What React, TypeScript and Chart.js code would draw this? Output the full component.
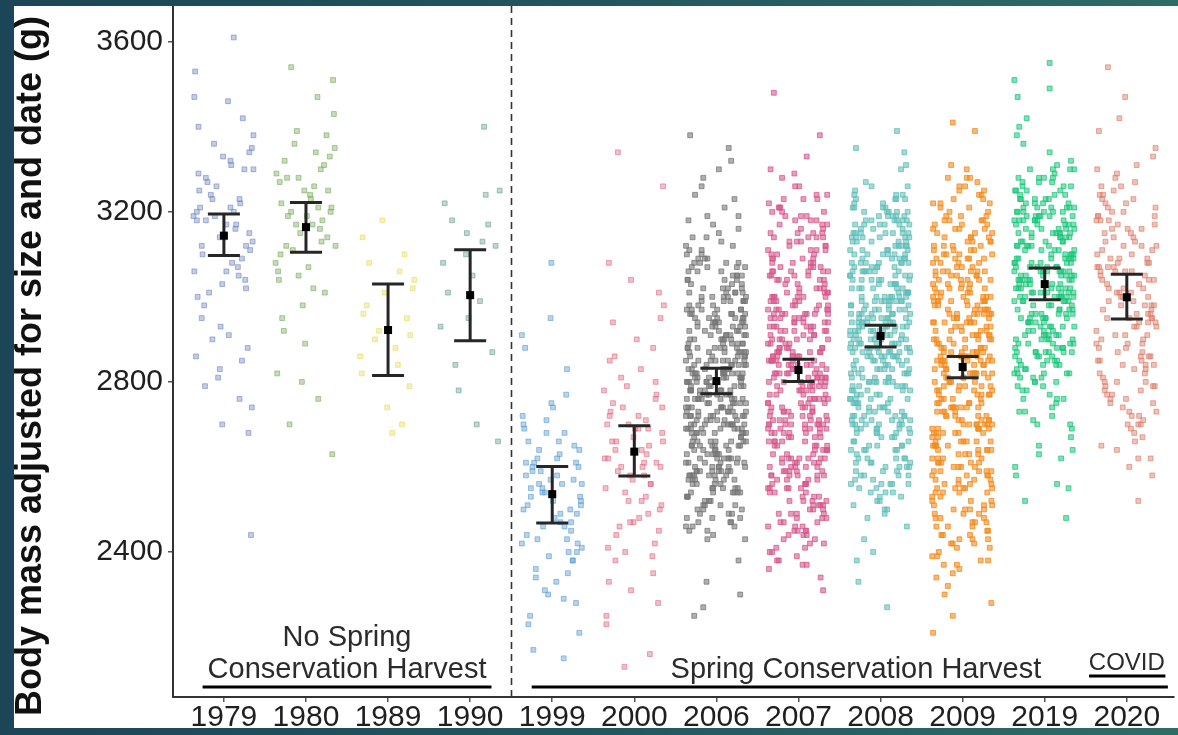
import React, { useEffect, useRef } from "react";
import { Chart, registerables } from "chart.js";

Chart.register(...registerables);

const FONT = "'Liberation Sans', Arial, Helvetica, sans-serif";

const YEARS = ["1979", "1980", "1989", "1990", "1999", "2000", "2006", "2007", "2008", "2009", "2019", "2020"];
const MEANS = [3144, 3164, 2922, 3004, 2536, 2636, 2802, 2828, 2908, 2835, 3030, 2999];
const LOWER = [3097, 3105, 2815, 2897, 2468, 2579, 2772, 2801, 2882, 2810, 2993, 2948];
const UPPER = [3195, 3222, 3030, 3111, 2601, 2697, 2832, 2853, 2933, 2860, 3068, 3053];
const COLORS = [
  "112,135,195", "120,172,92", "232,220,95", "105,160,148", "98,160,212", "226,112,134",
  "118,118,118", "214,88,140", "96,190,184", "242,140,32", "28,198,122", "220,128,108",
];
const FILL_ALPHA = [0.42, 0.42, 0.42, 0.42, 0.45, 0.45, 0.58, 0.58, 0.58, 0.6, 0.55, 0.48];
const Y_TICKS = [2400, 2800, 3200, 3600];
const Y_TITLE = "Body mass adjusted for size and date (g)";

const JITTER = [
  0.12, -0.31, 0.27, -0.05, 0.34, -0.22, 0.03, -0.36, 0.19, -0.14,
  0.31, -0.27, 0.08, 0.22, -0.33, -0.02, 0.36, -0.18, 0.15, -0.09,
  0.29, -0.35, 0.01, 0.25, -0.24, 0.1, -0.29, 0.33, -0.12, 0.18,
  -0.37, 0.06, -0.2, 0.35, -0.07, 0.23, -0.32, 0.14, -0.16, 0.3,
  -0.01, -0.26, 0.2, -0.34, 0.05, 0.32, -0.11, 0.26, -0.23, 0.09,
  -0.3, 0.17, -0.04,
];

const M1979 = [3610, 3290, 3120, 2830, 3350, 3180, 3060, 3470, 2760, 3230, 3150, 2950, 3320, 3090, 3200, 2700, 3380, 3010, 3170, 3260,
  2880, 3530, 3140, 3300, 2980, 3080, 3210, 2440, 3360, 3050, 3190, 2910, 3270, 3130, 2810, 3420, 3000, 3160, 3240, 2680,
  3330, 3100, 3220, 2860, 3460, 3110, 3190, 3040, 2790, 3310, 3250, 3070, 2930, 3200, 3400, 3020, 3140, 2740, 3280, 3170,
  3060, 3230, 2900, 3340, 3120, 3210, 2850, 3180, 3030, 3300];
const M1980 = [3540, 3210, 3050, 3330, 2820, 3190, 3380, 3120, 3260, 2950, 3510, 3170, 3300, 3080, 3230, 2700, 3350, 3150, 3010, 3270,
  3470, 3110, 3200, 2890, 3320, 3180, 3060, 3240, 2630, 3390, 3140, 3280, 3020, 3220, 3160, 2980, 3340, 3100, 3250, 2800,
  3430, 3190, 3070, 3290, 3130, 3360, 3210, 2920, 3170, 3310, 3040, 3250, 3120, 3200, 2760, 3280];
const M1989 = [3180, 2950, 2820, 3060, 2900, 3020, 2740, 2980, 3100, 2860, 2680, 3040, 2920, 2790, 3080, 2880, 2960, 2700, 3010, 2840, 3140, 2910];
const M1990 = [3400, 3150, 2990, 3220, 2870, 3100, 2660, 3180, 3050, 2930, 3240, 2780, 3120, 3010, 2700, 3170, 3080, 2950, 3250, 2840, 3130];
const M1999 = [2950, 2560, 2430, 2680, 2310, 2610, 2500, 2740, 2380, 2590, 2470, 2660, 2210, 2540, 2830, 2420, 2620, 2360, 2520, 2710,
  2450, 2580, 2290, 2640, 2490, 3080, 2550, 2400, 2690, 2330, 2600, 2460, 2570, 2170, 2630, 2510, 2770, 2390, 2560, 2440,
  2650, 2300, 2530, 2610, 2480, 2720, 2350, 2590, 2420, 2250, 2660, 2500, 2880, 2570, 2410, 2620, 2460, 2540, 2280, 2700,
  2520, 2380, 2600, 2490, 2230, 2640, 2550, 2430, 2910, 2580, 2340, 2510, 2680, 2470, 2610, 2150, 2560, 2400, 2750, 2530];
const M2000 = [3340, 2660, 2520, 2880, 2410, 2710, 2600, 3010, 2470, 2750, 2560, 2230, 2690, 2950, 2540, 2800, 2380, 2640, 2720, 2490,
  3040, 2610, 2330, 2770, 2580, 2680, 2440, 2900, 2620, 2160, 2740, 2500, 2660, 2830, 2390, 2700, 2570, 2980, 2460, 2630,
  2790, 2280, 2550, 2690, 2420, 2860, 2600, 2730, 2510, 2130, 2650, 2780, 2480, 2590, 3260, 2700, 2350, 2620, 2530, 2810,
  2450, 2670, 2940, 2560, 2250, 2720, 2600, 2400, 2760, 2640, 2520, 2850, 2690, 2310, 2580, 3080, 2610, 2470, 2740, 2660];
const M2006 = [2810, 2650, 2990, 2720, 3080, 2540, 2870, 2930, 2610, 2760, 3150, 2480, 2840, 2700, 3020, 2580, 2900, 2790, 2450, 2960,
  2680, 3100, 2830, 2520, 2750, 3040, 2620, 2880, 2710, 3210, 2560, 2940, 2800, 2470, 2690, 3060, 2770, 2600, 2910, 2850,
  3380, 2730, 2500, 2970, 2640, 2820, 3120, 2570, 2780, 2950, 2430, 2860, 2660, 3000, 2740, 2590, 3170, 2810, 2690, 2920,
  2550, 2840, 3090, 2630, 2760, 2890, 2510, 3030, 2700, 2820, 2460, 2980, 2650, 2870, 3260, 2600, 2750, 2930, 2530, 2800,
  3070, 2680, 2900, 2570, 2790, 3140, 2620, 2850, 2740, 2490, 2960, 2710, 3010, 2580, 2830, 2270, 2670, 2940, 2760, 3050,
  2610, 2880, 2720, 3190, 2540, 2810, 2990, 2650, 2770, 2440, 2910, 2700, 3080, 2590, 2850, 2730, 3300, 2630, 2960, 2780,
  2500, 2840, 3020, 2690, 2920, 2560, 2750, 3110, 2640, 2870, 2480, 2800, 2970, 2710, 2590, 3040, 2820, 2660, 2330, 2900,
  2740, 3130, 2620, 2860, 2520, 2950, 2780, 3000, 2680, 2810, 2570, 3240, 2730, 2890, 2610, 2760, 3070, 2550, 2930, 2700,
  2830, 2470, 2980, 2650, 2790, 3160, 2600, 2870, 2720, 2940, 2530, 2820, 3090, 2680, 2250, 2850, 2760, 3010, 2580, 2910,
  2690, 3350, 2770, 2540, 2880, 2630, 3050, 2800, 2710, 2460, 2950, 2840, 2660, 3120, 2590, 2780, 2990, 2720, 2510, 2860,
  3020, 2640, 2800, 2930, 2570, 2750, 3180, 2690, 2890, 2450, 2820, 3060, 2620, 2970, 2740, 2550, 2910, 2780, 2380, 3000,
  2700, 2850, 2600, 3100, 2760, 2520, 2940, 2670, 2830, 3230, 2580, 2880, 2730, 2990, 2490, 2810, 2650, 3040, 2770, 2920,
  2560, 2870, 3140, 2680, 2800, 2960, 2610, 2740, 3080, 2430, 2850, 2720, 2900, 2590, 3280, 2790, 2660, 2950, 2540, 2830,
  2760, 3010, 2630, 2890, 2500, 2820, 3070, 2700, 2940, 2580, 2780, 3190, 2650, 2860, 2470, 2920, 2730, 3030, 2610, 2810,
  2900, 2550, 2750, 3110, 2680, 2840, 2970, 2620, 2790, 2300, 2880, 2710, 3050, 2590, 2820, 2660, 2990, 2770, 3320, 2720,
  2780, 2590, 2930, 2660, 3010, 2720, 2850, 2510, 2970, 2630, 2810, 2700, 3060, 2560, 2890, 2750, 2620, 2940, 2830, 2680,
  2910, 2540, 2770, 3030, 2650, 2860, 2720, 2980, 2600, 2800, 2490, 2920, 2690, 3080, 2740, 2570, 2870, 2640, 3000, 2760,
  2620, 2950, 2810, 2530, 2730, 3040, 2680, 2880, 2580, 2990, 2710, 2840, 2460, 2900, 2650, 3070, 2790, 2550, 2960, 2700,
  3020, 2670, 2850, 2600, 2930, 2740, 2510, 2820, 3090, 2690, 2880, 2570, 2960, 2780, 2630, 3010, 2720, 2840, 2480, 2910,
  2760, 2590, 2970, 2700, 2830, 3050, 2640, 2890, 2540, 2800, 2940, 2660, 3000, 2730, 2580, 2870, 2690, 2950, 2610, 2820];
const M2007 = [2830, 3050, 2610, 2940, 2470, 3180, 2720, 2880, 2550, 3010, 2790, 2380, 2960, 2660, 3120, 2840, 2500, 2750, 3230, 2900,
  2640, 2980, 2810, 3090, 2420, 2700, 3160, 2580, 2870, 2760, 3300, 2530, 2920, 2680, 3040, 2820, 2450, 2990, 2730, 2600,
  3140, 2860, 2510, 2950, 2690, 3070, 2780, 2360, 2910, 2630, 3200, 2850, 2560, 3020, 2740, 2480, 2970, 2800, 3110, 2670,
  2590, 2930, 3260, 2710, 2840, 2440, 3000, 2770, 2620, 3150, 2890, 2520, 2960, 2650, 3080, 2810, 2400, 2870, 3190, 2700,
  3030, 2570, 2820, 2990, 2460, 2750, 3130, 2680, 2900, 2540, 3480, 2790, 2610, 3060, 2850, 2340, 2940, 2720, 3210, 2800,
  2660, 3100, 2880, 2490, 2970, 2740, 3240, 2580, 2830, 3010, 2430, 2920, 2700, 3170, 2600, 2860, 2510, 3040, 2780, 2950,
  2810, 2550, 3070, 2690, 2910, 3280, 2640, 2870, 2470, 3000, 2760, 2590, 3140, 2840, 2380, 2960, 2730, 3090, 2620, 2890,
  3020, 2710, 2450, 2930, 2800, 3180, 2570, 2860, 2670, 3050, 2520, 2950, 2750, 3220, 2610, 2820, 2420, 2990, 2700, 3110,
  2580, 2900, 3060, 2680, 2840, 2490, 3150, 2770, 2620, 2980, 2870, 3330, 2540, 2810, 2730, 3080, 2460, 2940, 2660, 3010,
  2850, 2600, 3200, 2720, 2960, 2500, 2830, 3040, 2640, 2910, 2370, 2790, 3120, 2690, 2880, 2560, 3000, 2740, 3260, 2810,
  2630, 3070, 2920, 2480, 2780, 3160, 2700, 2850, 2550, 3020, 2820, 2410, 2970, 2680, 3130, 2760, 2590, 2930, 3060, 2840,
  2720, 2990, 2530, 2870, 3190, 2650, 2800, 2440, 3090, 2750, 2950, 2610, 3240, 2830, 2570, 2900, 2690, 3030, 2310, 2860,
  3100, 2670, 2890, 2740, 3010, 2520, 2820, 3170, 2600, 2960, 2780, 2460, 3050, 2710, 2870, 3290, 2640, 2920, 2550, 2800,
  2760, 3040, 2580, 2930, 2690, 3140, 2850, 2490, 2980, 2730, 3080, 2620, 2810, 2400, 2950, 2700, 3210, 2840, 2660, 3000,
  2880, 2510, 3110, 2770, 2620, 2970, 2830, 3230, 2560, 2900, 2710, 3060, 2450, 2860, 2650, 3150, 2790, 2940, 2590, 3380,
  2880, 2560, 3140, 2730, 2980, 2620, 3060, 2800, 2450, 2920, 2690, 3190, 2850, 2530, 3010, 2760, 2410, 2960, 2650, 3100,
  2590, 2900, 3230, 2710, 2840, 2480, 3050, 2780, 2610, 2970, 2370, 2820, 3120, 2670, 2930, 2550, 3000, 2740, 3170, 2860,
  2700, 3080, 2500, 2890, 2640, 3150, 2790, 2430, 2950, 2720, 3030, 2580, 2870, 3210, 2680, 2810, 2520, 2990, 2750, 3090,
  2620, 2940, 2830, 2470, 3130, 2700, 2910, 2570, 3040, 2770, 2660, 3180, 2850, 2390, 2960, 2730, 3070, 2600, 2880, 2540,
  3020, 2760, 2490, 2930, 2680, 3110, 2820, 2630, 2970, 2440, 3200, 2710, 2860, 2580, 3060, 2790, 2920, 2510, 3000, 2650];
const M2008 = [2910, 3150, 2720, 3040, 2850, 2600, 3210, 2960, 2780, 3090, 2530, 2890, 3180, 2700, 3000, 2820, 3260, 2650, 2940, 3110,
  2760, 3030, 2880, 2560, 3170, 2930, 2690, 3080, 2810, 3220, 2980, 2620, 2870, 3130, 2740, 2500, 3010, 2900, 3190, 2680,
  3060, 2800, 2950, 3340, 2710, 2860, 3120, 2580, 2990, 2770, 3200, 2920, 2640, 3050, 2840, 2430, 3140, 2730, 2970, 3240,
  2670, 2940, 3100, 2830, 2550, 3020, 2790, 3170, 2880, 2610, 3080, 2960, 2750, 3230, 2860, 2520, 3000, 2700, 3150, 2910,
  2820, 3060, 2590, 2980, 3190, 2740, 2900, 2330, 3110, 2850, 2660, 3030, 2780, 3270, 2940, 2570, 3090, 2810, 2990, 2710,
  3160, 2870, 2630, 3010, 2760, 3120, 2920, 2540, 3200, 2830, 2970, 2690, 3070, 2890, 2480, 3140, 2770, 2950, 3390, 2720,
  2990, 2600, 3130, 2840, 3040, 2730, 2910, 3180, 2650, 2870, 3250, 2790, 3000, 2560, 2930, 3100, 2820, 2680, 3060, 2950,
  2750, 3200, 2890, 2510, 3080, 2960, 2700, 3150, 2850, 2620, 3020, 2900, 3300, 2770, 2980, 2380, 3110, 2860, 2720, 3050,
  2930, 2580, 3170, 2800, 3000, 2660, 3090, 2880, 3230, 2740, 2960, 2590, 3130, 2830, 2460, 3040, 2910, 2710, 3190, 2850,
  3070, 2690, 2940, 3150, 2780, 2550, 3010, 2870, 3210, 2640, 2990, 2800, 3120, 2920, 2270, 3060, 2750, 2970, 2610, 3180,
  2860, 3020, 2720, 3140, 2950, 2530, 3080, 2810, 2680, 3260, 2900, 3030, 2760, 2600, 3170, 2880, 2990, 2700, 3100, 2830,
  2620, 3050, 2920, 2790, 3200, 2870, 2490, 3120, 2960, 2730, 3000, 2840, 3350, 2670, 3070, 2910, 2570, 3160, 2800, 2980,
  3110, 2740, 2890, 3230, 2650, 3010, 2820, 2930, 2580, 3150, 2870, 2710, 3080, 2960, 2400, 3190, 2780, 3040, 2900, 2690,
  2970, 3130, 2760, 2540, 3050, 2880, 3210, 2640, 2940, 2810, 3090, 2720, 3000, 2860, 2620, 3170, 2930, 2790, 3060, 2500,
  2850, 3180, 2700, 3020, 2950, 2610, 3100, 2830, 2990, 2750, 3240, 2890, 2660, 3140, 2920, 2560, 3030, 2800, 3310, 2940,
  2950, 3120, 2780, 3040, 2870, 2640, 3190, 2920, 2720, 3080, 2560, 2990, 3150, 2810, 2690, 3010, 2880, 3230, 2760, 2940,
  3060, 2600, 2900, 3170, 2830, 2710, 3100, 2970, 2520, 3020, 2860, 3210, 2740, 2930, 3070, 2650, 2990, 2800, 3140, 2890,
  2680, 3030, 2920, 3180, 2770, 2580, 3090, 2850, 2960, 3240, 2730, 3000, 2620, 2910, 3130, 2840, 2700, 3050, 2980, 2540,
  3160, 2820, 2940, 2670, 3080, 2890, 3200, 2750, 3010, 2610, 2930, 3110, 2800, 2970, 2690, 3060, 2870, 3220, 2560, 2950,
  2790, 3140, 2900, 2640, 3040, 2860, 3180, 2710, 2990, 2830, 3100, 2590, 2920, 3070, 2760, 2880, 3020, 2680, 3150, 2940];
const M2009 = [2840, 3120, 2560, 2980, 2700, 3250, 2430, 2890, 3060, 2630, 2790, 3180, 2500, 2940, 2740, 3310, 2580, 2860, 3020, 2380,
  2920, 2660, 3150, 2810, 2470, 3090, 2720, 2990, 2550, 3230, 2850, 2610, 3040, 2770, 2350, 2960, 2690, 3130, 2830, 2520,
  3070, 2750, 2900, 2420, 3200, 2640, 2870, 3010, 2590, 2800, 3280, 2710, 2950, 2480, 3100, 2820, 2670, 3050, 2540, 2910,
  2780, 3160, 2600, 2930, 2300, 2860, 3080, 2690, 2990, 2450, 3220, 2750, 2880, 2570, 3040, 2820, 2650, 3390, 2730, 2970,
  2510, 3000, 2840, 2680, 3140, 2400, 2910, 2760, 3060, 2620, 2850, 3190, 2560, 2960, 2710, 2340, 3110, 2800, 2640, 3030,
  2880, 2490, 3170, 2740, 2950, 2600, 3090, 2820, 2440, 2990, 2700, 3260, 2870, 2550, 3020, 2780, 2660, 3140, 2900, 2210,
  2690, 3050, 2810, 2530, 3210, 2920, 2650, 2860, 3100, 2460, 2970, 2740, 3000, 2590, 2830, 3180, 2620, 2940, 2770, 2410,
  3120, 2860, 2580, 3010, 2720, 2900, 2370, 3240, 2680, 2960, 2800, 2540, 3070, 2850, 2610, 2980, 3300, 2710, 2890, 2500,
  2760, 3030, 2640, 2910, 3160, 2470, 2850, 2700, 3080, 2570, 2940, 2790, 3220, 2630, 2870, 2430, 3000, 2750, 3120, 2660,
  2930, 2550, 3060, 2820, 2680, 3190, 2900, 2490, 2990, 2730, 3140, 2610, 2860, 3410, 2770, 2520, 3040, 2810, 2280, 2950,
  2620, 3090, 2780, 2960, 2450, 3170, 2840, 2690, 3020, 2580, 2910, 2740, 3250, 2870, 2500, 2990, 2660, 3100, 2820, 2390,
  2970, 2710, 3130, 2560, 2880, 3030, 2640, 2800, 3200, 2480, 2950, 2760, 3060, 2600, 2850, 2320, 3150, 2720, 2920, 2680,
  2810, 3000, 2540, 3110, 2750, 2900, 2420, 3270, 2670, 2980, 2830, 2590, 3050, 2790, 2460, 2940, 3180, 2700, 2860, 2610,
  3080, 2650, 2940, 2770, 3230, 2510, 2880, 3010, 2690, 2820, 2360, 3130, 2730, 2990, 2570, 3040, 2840, 2630, 3160, 2900,
  2740, 2970, 2590, 3090, 2850, 2480, 3020, 2700, 3280, 2800, 2550, 2930, 3110, 2660, 2870, 2440, 3060, 2780, 2960, 2250,
  2870, 2530, 3090, 2720, 2960, 2410, 3180, 2650, 2840, 3020, 2580, 2920, 2760, 3240, 2490, 2990, 2690, 3110, 2820, 2370,
  2940, 2620, 3050, 2790, 2460, 3150, 2880, 2560, 3000, 2730, 3260, 2650, 2910, 2420, 2850, 3080, 2700, 2970, 2540, 3190,
  2780, 3030, 2600, 2930, 2470, 3120, 2810, 2680, 3060, 2520, 2890, 3220, 2740, 2980, 2390, 2860, 3100, 2640, 2950, 2770,
  3010, 2570, 2900, 3170, 2710, 2440, 3040, 2830, 2660, 3140, 2500, 2960, 2790, 3280, 2610, 2870, 2430, 3070, 2750, 2990,
  2680, 3130, 2850, 2550, 3000, 2720, 2920, 2380, 3210, 2630, 2880, 3050, 2740, 2510, 2970, 2820, 3160, 2590, 2940, 2700];
const M2019 = [3040, 3210, 2880, 3120, 2950, 3300, 3070, 2760, 3180, 2990, 3250, 2910, 3100, 2830, 3150, 3020, 2690, 3230, 2970, 3080,
  3550, 2940, 3170, 2860, 3060, 3280, 2800, 3010, 3140, 2920, 3200, 2620, 3090, 2980, 3320, 2870, 3050, 3160, 2740, 3000,
  3110, 2900, 3240, 3030, 2820, 3190, 2960, 3420, 2850, 3080, 3150, 2710, 3020, 3270, 2930, 3130, 2790, 3060, 3210, 2950,
  2880, 3170, 3010, 2580, 3230, 3090, 2910, 3300, 2840, 3040, 3180, 2970, 3510, 2770, 3120, 3000, 2650, 3260, 2890, 3070,
  3140, 2820, 3200, 2990, 3050, 3380, 2870, 3100, 2940, 2480, 3220, 3030, 2810, 3160, 2960, 3290, 2730, 3080, 3010, 2900,
  3190, 3060, 2860, 3250, 2980, 2700, 3130, 3020, 2930, 3470, 2790, 3110, 3040, 2850, 3210, 2550, 3070, 2950, 3170, 3000,
  2920, 3230, 3050, 2800, 3150, 2990, 3340, 2890, 3090, 2630, 3180, 3020, 2840, 3120, 2970, 3280, 2760, 3060, 3200, 2910,
  3080, 2870, 3160, 3030, 2720, 3240, 2960, 3110, 2850, 3400, 3000, 2930, 3190, 2780, 3070, 2600, 3140, 3010, 2890, 3260,
  2980, 3130, 2820, 3220, 3050, 2940, 3310, 2700, 3090, 3170, 2870, 3020, 2520, 3200, 2950, 3100, 2800, 3060, 3180, 2930,
  3040, 2890, 3270, 2990, 3150, 2750, 3080, 3210, 2910, 3360, 3000, 2830, 3120, 2670, 3190, 2960, 3050, 2860, 3230, 3020,
  2810, 3110, 3180, 2950, 3060, 2640, 3250, 3010, 2880, 3140, 2920, 3300, 2780, 3090, 3200, 2970, 2840, 3160, 3030, 2560,
  3070, 3220, 2900, 3130, 2990, 2730, 3280, 3050, 2870, 3180, 3000, 2820, 3490, 2940, 3100, 3190, 2760, 3040, 2910, 3150,
  3060, 2940, 3180, 3010, 2870, 3230, 3090, 2960, 3140, 2830, 3270, 3040, 2910, 3160, 3000, 2850, 3210, 3080, 2970, 3120,
  2900, 3250, 3030, 2810, 3150, 2990, 3100, 2880, 3200, 3050, 2930, 3300, 3070, 2860, 3170, 3020, 2950, 3240, 3110, 2890,
  3130, 2980, 3220, 2840, 3060, 3190, 2920, 3010, 3280, 2870, 3090, 3150, 2960, 3040, 2820, 3210, 3000, 3120, 2900, 3260];
const M2020 = [3010, 2850, 3180, 2720, 3090, 2940, 3260, 2800, 3050, 2620, 3140, 2980, 2760, 3220, 2900, 3070, 2690, 3330, 2870, 3000,
  3540, 2930, 3110, 2780, 3200, 2960, 2650, 3080, 2840, 3170, 3020, 2730, 3300, 2890, 3060, 2580, 3150, 2990, 2820, 3240,
  2910, 3120, 2770, 3030, 3420, 2860, 3190, 2700, 3080, 2950, 3270, 2810, 3040, 2640, 3160, 2920, 3100, 2750, 3210, 2980,
  2830, 3060, 2520, 3250, 2970, 2880, 3130, 2710, 3390, 3010, 2790, 3170, 2940, 3070, 2680, 3230, 2860, 3020, 3310, 2900,
  3040, 2740, 3190, 2990, 2600, 3100, 2870, 3280, 2950, 2780, 3140, 3050, 2820, 3470, 2930, 3200, 2720, 3090, 2960, 2850,
  3160, 2910, 3030, 2660, 3240, 2980, 2800, 3120, 2890, 3060, 2760, 3350, 3000, 2840, 3180, 2700, 3070, 2950, 3220, 2790,
  3020, 2880, 3150, 2750, 3080, 2960, 3210, 2830, 3040, 2700, 3120, 2930, 3260, 2860, 3000, 2790, 3180, 2950, 3070, 2670,
  2910, 3110, 2800, 3230, 2980, 2850, 3060, 2730, 3160, 2940, 3010, 2620, 3190, 2890, 3090, 2770, 3130, 2970, 2840, 3290];

const GROUPS = [M1979, M1980, M1989, M1990, M1999, M2000, M2006, M2007, M2008, M2009, M2019, M2020];

const annotations = {
  id: "annotations",
  afterDatasetsDraw(chart: any) {
    const { ctx, chartArea, scales } = chart;
    const x = scales.x;
    const y = scales.y;
    ctx.save();
    // error bars
    ctx.strokeStyle = "#262626";
    ctx.lineWidth = 3;
    MEANS.forEach((m, i) => {
      const px = x.getPixelForValue(i);
      const lo = y.getPixelForValue(LOWER[i]);
      const hi = y.getPixelForValue(UPPER[i]);
      const cap = x.getPixelForValue(i + 0.195) - px;
      ctx.beginPath();
      ctx.moveTo(px, lo);
      ctx.lineTo(px, hi);
      ctx.moveTo(px - cap, lo);
      ctx.lineTo(px + cap, lo);
      ctx.moveTo(px - cap, hi);
      ctx.lineTo(px + cap, hi);
      ctx.stroke();
      const my = y.getPixelForValue(m);
      ctx.fillStyle = "#000";
      ctx.fillRect(px - 4, my - 4, 8, 8);
    });
    // dashed separator
    const sx = Math.round(x.getPixelForValue(3.5)) + 0.5;
    ctx.strokeStyle = "#333";
    ctx.lineWidth = 1.6;
    ctx.setLineDash([7, 5]);
    ctx.beginPath();
    ctx.moveTo(sx, chartArea.top);
    ctx.lineTo(sx, chartArea.bottom);
    ctx.stroke();
    ctx.setLineDash([]);
    // period labels
    const b = chartArea.bottom;
    ctx.fillStyle = "#2b2b2b";
    ctx.textAlign = "center";
    ctx.textBaseline = "alphabetic";
    ctx.font = `29px ${FONT}`;
    ctx.fillText("No Spring", x.getPixelForValue(1.5), b - 51);
    ctx.fillText("Conservation Harvest", x.getPixelForValue(1.5), b - 19);
    ctx.fillText("Spring Conservation Harvest", x.getPixelForValue(7.7), b - 19);
    ctx.font = `24px ${FONT}`;
    ctx.fillText("COVID", x.getPixelForValue(11.0), b - 27);
    ctx.fillStyle = "#000";
    const bar = (a: number, c: number, yy: number, h: number) => {
      const x0 = x.getPixelForValue(a);
      const x1 = x.getPixelForValue(c);
      ctx.fillRect(x0, yy, x1 - x0, h);
    };
    bar(-0.26, 3.26, b - 11.5, 3);
    bar(3.75, 11.5, b - 11.5, 3);
    bar(10.54, 11.47, b - 22.5, 3);
    // y title
    ctx.save();
    ctx.translate(31, 366);
    ctx.rotate(-Math.PI / 2);
    ctx.font = `bold 36px ${FONT}`;
    ctx.fillStyle = "#111";
    ctx.textAlign = "center";
    ctx.textBaseline = "middle";
    ctx.fillText(Y_TITLE, 0, 0);
    ctx.restore();
    ctx.restore();
  },
  afterDraw(chart: any) {
    const { ctx, width, height } = chart;
    ctx.save();
    const g = ctx.createLinearGradient(0, 0, width, 0);
    g.addColorStop(0, "#1b4657");
    g.addColorStop(0.5, "#22565f");
    g.addColorStop(1, "#2e6c66");
    ctx.fillStyle = g;
    ctx.fillRect(0, 0, width, 6);
    ctx.fillRect(0, 0, 14, height);
    ctx.fillRect(0, 728, width, height - 728);
    ctx.restore();
  },
};

export default function App() {
  const ref = useRef<HTMLCanvasElement | null>(null);
  useEffect(() => {
    if (!ref.current) return;
    const chart = new Chart(ref.current, {
      type: "scatter",
      data: {
        datasets: GROUPS.map((vals, g) => ({
          label: YEARS[g],
          data: vals.map((v, i) => ({ x: g + JITTER[(i + g * 17) % JITTER.length], y: v })),
          backgroundColor: `rgba(${COLORS[g]},${FILL_ALPHA[g]})`,
          borderColor: `rgba(${COLORS[g]},${Math.min(1, FILL_ALPHA[g] + 0.18)})`,
          borderWidth: 1,
          pointStyle: "rect",
          pointRadius: 3.4,
          pointHoverRadius: 3.4,
        })),
      },
      options: {
        responsive: false,
        animation: false,
        devicePixelRatio: 1,
        layout: { padding: { left: 14, top: 6, right: 0, bottom: 0 } },
        plugins: { legend: { display: false }, tooltip: { enabled: false } },
        events: [],
        scales: {
          x: {
            type: "linear",
            min: -0.62,
            max: 11.57,
            afterBuildTicks: (ax: any) => {
              ax.ticks = YEARS.map((_, i) => ({ value: i }));
            },
            afterFit: (s: any) => {
              s.height = 38;
              s.paddingLeft = 0;
              s.paddingRight = 0;
            },
            ticks: {
              callback: (v: any) => YEARS[v] ?? "",
              font: { size: 30, family: FONT },
              color: "#1f1f1f",
              autoSkip: false,
              maxRotation: 0,
              minRotation: 0,
              padding: -2,
            },
            grid: { drawOnChartArea: false, tickLength: 5, color: "#555", lineWidth: 1.5 },
            border: { display: true, color: "#333", width: 2 },
          },
          y: {
            type: "linear",
            min: 2059,
            max: 3684,
            afterBuildTicks: (ax: any) => {
              ax.ticks = Y_TICKS.map((v) => ({ value: v }));
            },
            afterFit: (s: any) => {
              s.width = 159;
              s.paddingTop = 0;
              s.paddingBottom = 0;
            },
            ticks: {
              callback: (v: any) => String(v),
              font: { size: 30, family: FONT },
              color: "#1f1f1f",
              padding: 5,
            },
            grid: { drawOnChartArea: false, tickLength: 5, color: "#555", lineWidth: 1.5 },
            border: { display: true, color: "#333", width: 2 },
          },
        },
      },
      plugins: [annotations],
    });
    return () => chart.destroy();
  }, []);
  return (
    <div style={{ position: "fixed", left: 0, top: 0, width: 1178, height: 735, background: "#fff" }}>
      <canvas ref={ref} width={1178} height={735} style={{ width: 1178, height: 735, display: "block" }} />
    </div>
  );
}
